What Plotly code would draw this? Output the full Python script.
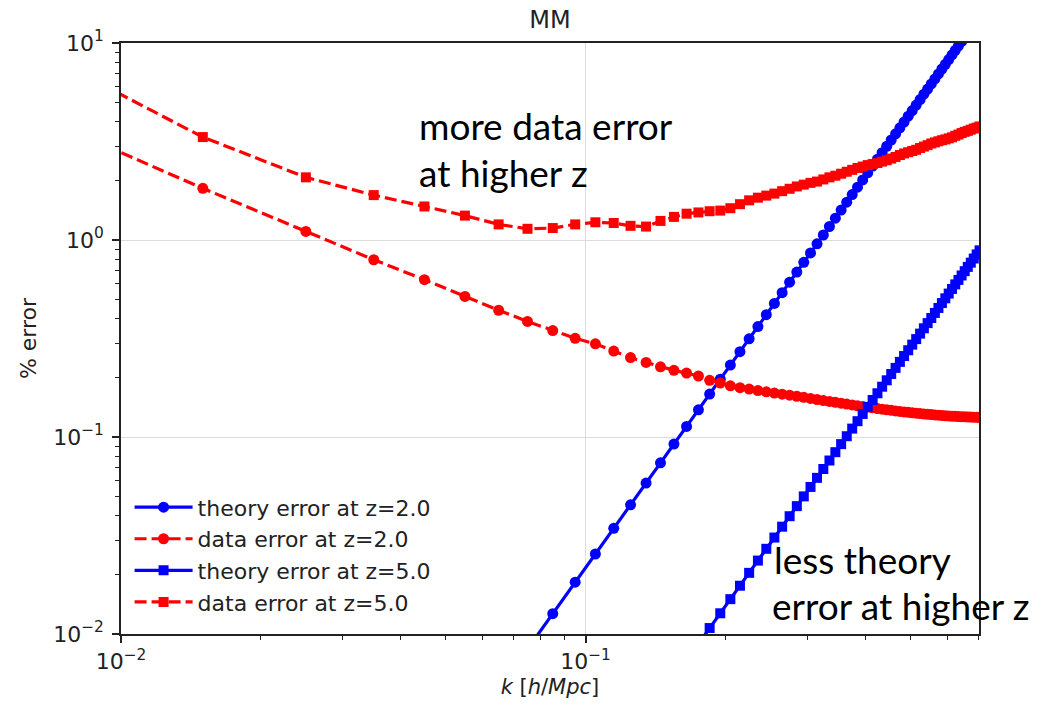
import plotly.graph_objects as go

# k grid [h/Mpc]
k = [0.005, 0.015, 0.025, 0.035, 0.045, 0.055, 0.065, 0.075, 0.085, 0.095,
     0.105, 0.115, 0.125, 0.135, 0.145, 0.155, 0.165, 0.175, 0.185, 0.195,
     0.205, 0.215, 0.225, 0.235, 0.245, 0.255, 0.265, 0.275, 0.285, 0.295,
     0.305, 0.315, 0.325, 0.335, 0.345, 0.355, 0.365, 0.375, 0.385, 0.395,
     0.405, 0.415, 0.425, 0.435, 0.445, 0.455, 0.465, 0.475, 0.485, 0.495,
     0.505, 0.515, 0.525, 0.535, 0.545, 0.555, 0.565, 0.575, 0.585, 0.595,
     0.605, 0.615, 0.625, 0.635, 0.645, 0.655, 0.665, 0.675, 0.685, 0.695,
     0.705]

theory_z2 = [None, None, None, None, None, None,
             0.00523, 0.00839, 0.01268, 0.01832, 0.02547, 0.03440, 0.04529, 0.05837, 0.07391, 0.09209,
             0.1132, 0.1374, 0.1652, 0.1964, 0.2318, 0.2711, 0.3151, 0.3637, 0.4175, 0.4762,
             0.5405, 0.6107, 0.6871, 0.7700, 0.8599, 0.9563, 1.060, 1.171, 1.291, 1.419,
             1.555, 1.700, 1.855, 2.018, 2.193, 2.375, 2.570, 2.775, 2.991, 3.218,
             3.458, 3.710, 3.972, 4.250, 4.540, 4.843, 5.163, 5.495, 5.839, 6.200,
             6.573, 6.969, 7.379, 7.798, 8.243, 8.700, 9.177, 9.670, 10.18, 10.71,
             11.26, None, None, None, None]

data_z2 = [5.67, 1.83, 1.106, 0.794, 0.629, 0.517, 0.440, 0.386, 0.347, 0.317,
           0.297, 0.273, 0.253, 0.239, 0.227, 0.218, 0.211, 0.204, 0.194, 0.188,
           0.182, 0.178, 0.175, 0.172, 0.1695, 0.167, 0.165, 0.163, 0.161, 0.159,
           0.157, 0.155, 0.153, 0.1515, 0.150, 0.1485, 0.147, 0.1455, 0.144, 0.1428,
           0.1417, 0.1406, 0.1395, 0.1385, 0.1375, 0.1366, 0.1357, 0.1349, 0.1341, 0.1334,
           0.1327, 0.1321, 0.1315, 0.1309, 0.1304, 0.1299, 0.1294, 0.1290, 0.1286, 0.1282,
           0.1279, 0.1276, 0.1273, 0.1270, 0.1268, 0.1266, 0.1264, 0.1262, 0.1260, 0.1258,
           0.1256]

theory_z5 = [None] * 16 + [
             0.00734, 0.00892, 0.01072, 0.01274, 0.01503, 0.01758, 0.02044, 0.02359, 0.02707, 0.03087,
             0.03506, 0.03962, 0.04457, 0.04995, 0.05578, 0.06204, 0.06879, 0.07597, 0.08374, 0.09203,
             0.1009, 0.1103, 0.1203, 0.1309, 0.1422, 0.1541, 0.1667, 0.1800, 0.1940, 0.2088,
             0.2243, 0.2406, 0.2576, 0.2756, 0.2944, 0.3140, 0.3348, 0.3562, 0.3785, 0.4019,
             0.4264, 0.4520, 0.4786, 0.5058, 0.5346, 0.5644, 0.5952, 0.6272, 0.6605, 0.6946,
             0.7302, 0.7672, 0.8054, 0.8449, 0.8857]

data_z5 = [12.8, 3.33, 2.08, 1.69, 1.48, 1.33, 1.20, 1.14, 1.15, 1.20,
           1.23, 1.22, 1.18, 1.17, 1.25, 1.31, 1.36, 1.38, 1.40, 1.41,
           1.45, 1.52, 1.59, 1.64, 1.68, 1.72, 1.77, 1.82, 1.87, 1.91,
           1.95, 1.98, 2.03, 2.08, 2.12, 2.17, 2.22, 2.27, 2.32, 2.36,
           2.40, 2.43, 2.46, 2.50, 2.54, 2.59, 2.64, 2.70, 2.75, 2.79,
           2.83, 2.87, 2.93, 2.98, 3.03, 3.09, 3.13, 3.17, 3.21, 3.24,
           3.28, 3.32, 3.38, 3.43, 3.49, 3.54, 3.58, 3.63, 3.68, 3.72,
           3.77]

x_ticks = [0.01, 0.1]
x_ticktext = ["10<sup>\u22122</sup>", "10<sup>\u22121</sup>"]
x_minor = [0.02, 0.03, 0.04, 0.05, 0.06, 0.07, 0.08, 0.09, 0.2, 0.3, 0.4, 0.5, 0.6, 0.7]
y_ticks = [0.01, 0.1, 1, 10]
y_ticktext = ["10<sup>\u22122</sup>", "10<sup>\u22121</sup>", "10<sup>0</sup>", "10<sup>1</sup>"]
y_minor = [m * d for d in (0.01, 0.1, 1) for m in range(2, 10)]

BLUE = "#0000ff"
RED = "#ff0000"
FONT = "DejaVu Sans"
INK = "#222222"

fig = go.Figure()
fig.add_trace(go.Scatter(x=k, y=theory_z2, mode="lines+markers", name="theory error at z=2.0",
                         line=dict(color=BLUE, width=3.2), marker=dict(symbol="circle", size=11, color=BLUE),
                         legendgroup="a"))
fig.add_trace(go.Scatter(x=k, y=data_z2, mode="lines+markers", name="data error at z=2.0",
                         line=dict(color=RED, width=3.2, dash="12px,5px"),
                         marker=dict(symbol="circle", size=11, color=RED), legendgroup="b"))
fig.add_trace(go.Scatter(x=k, y=theory_z5, mode="lines+markers", name="theory error at z=5.0",
                         line=dict(color=BLUE, width=3.2), marker=dict(symbol="square", size=10, color=BLUE),
                         legendgroup="c"))
fig.add_trace(go.Scatter(x=k, y=data_z5, mode="lines+markers", name="data error at z=5.0",
                         line=dict(color=RED, width=3.2, dash="12px,5px"),
                         marker=dict(symbol="square", size=10, color=RED), legendgroup="d"))

axis_common = dict(
    type="log", showline=True, linecolor=INK, linewidth=1.5, mirror=True,
    ticks="outside", ticklen=7, tickwidth=1.5, tickcolor=INK,
    showgrid=True, gridcolor="#dcdcdc", gridwidth=1.2, zeroline=False,
    tickfont=dict(family=FONT, size=22, color=INK),
)

fig.update_xaxes(**axis_common, range=[-2, -0.153], tickmode="array", tickvals=x_ticks, ticktext=x_ticktext,
                 minor=dict(tickmode="array", tickvals=x_minor, ticks="outside", ticklen=4, tickwidth=1.2,
                            tickcolor=INK, showgrid=False),
                 title=dict(text="<i>k</i> [<i>h</i>/<i>Mpc</i>]", font=dict(family=FONT, size=21, color=INK),
                            standoff=6))
fig.update_yaxes(**axis_common, range=[-2, 1], tickmode="array", tickvals=y_ticks, ticktext=y_ticktext,
                 ticklabelstandoff=4,
                 minor=dict(tickmode="array", tickvals=y_minor, ticks="outside", ticklen=4, tickwidth=1.2,
                            tickcolor=INK, showgrid=False),
                 title=dict(text="% error", font=dict(family=FONT, size=22, color=INK), standoff=10))

ANN_FONT = dict(family="Lato", size=37, color="black")
for txt, x, y in [("more data error", 0.3446, 0.8606), ("at higher z", 0.3446, 0.7810),
                  ("less theory", 0.7584, 0.1267), ("error at higher z", 0.7560, 0.0484)]:
    fig.add_annotation(text=txt, x=x, y=y, xref="paper", yref="paper", xanchor="left", yanchor="middle",
                       showarrow=False, font=ANN_FONT)

fig.update_layout(
    width=1046, height=712,
    margin=dict(l=121, r=67, t=43, b=78, autoexpand=False),
    paper_bgcolor="white", plot_bgcolor="white",
    title=dict(text="MM", x=0.5, xref="paper", xanchor="center", y=1 - 20 / 712, yanchor="middle",
               font=dict(family=FONT, size=24, color=INK)),
    font=dict(family=FONT, color=INK),
    showlegend=True,
    legend=dict(x=0.01, y=0.018, xanchor="left", yanchor="bottom", bgcolor="rgba(255,255,255,0)",
                font=dict(family=FONT, size=22, color=INK), traceorder="grouped", tracegroupgap=0,
                itemwidth=58),
)

fig.write_html("out.html")
